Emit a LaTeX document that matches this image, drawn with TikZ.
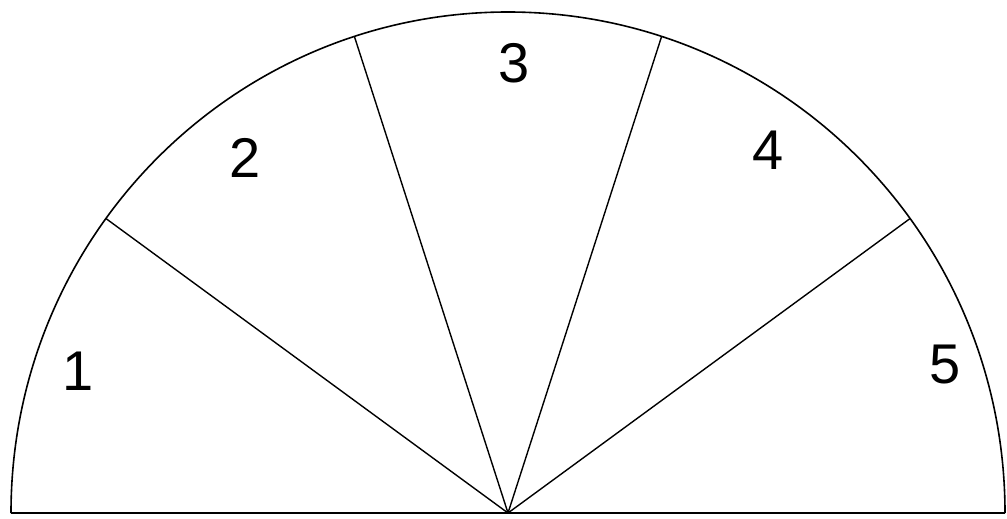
\documentclass[tikz,border=0pt]{standalone}
\usepackage{fontspec}
\setmainfont{Liberation Sans}
\usetikzlibrary{calc}
\begin{document}
\begin{tikzpicture}[x=1pt,y=-1pt,
  edge/.style={line width=1.6pt,black},
  ray/.style={line width=1.4pt,black},
  num/.style={font=\fontsize{56}{60}\selectfont,inner sep=0pt}]
\useasboundingbox (0,0) rectangle (1007,519);
\coordinate (c) at (508,513);
\coordinate (l) at (11,513);
\coordinate (r) at (1005,513);
\draw[edge] (l) -- (r);
\draw[edge] (l) arc[start angle=180,end angle=360,x radius=497,y radius=501];
\foreach \a/\n in {36/p1,72/p2,108/p3,144/p4}{
  \coordinate (\n) at ($(c)+({497*cos(\a)},{-501*sin(\a)})$);
  \draw[ray] (c) -- (\n);
}
\node[num] (n1) at (78,371) {1};
\node[num] (n2) at (245,158) {2};
\node[num] (n3) at (514,63) {3};
\node[num] (n4) at (768,150) {4};
\node[num] (n5) at (945,365) {5};
\end{tikzpicture}
\end{document}
